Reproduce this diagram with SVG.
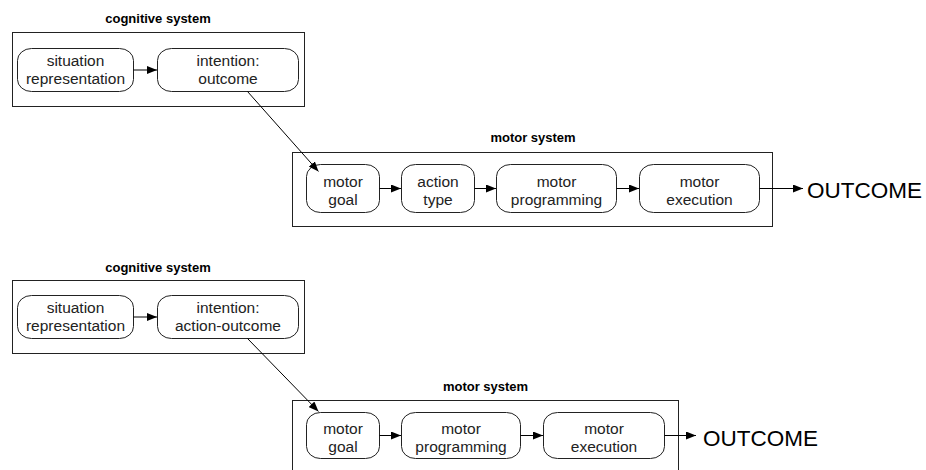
<svg xmlns="http://www.w3.org/2000/svg" width="926" height="470" viewBox="0 0 926 470">
  <defs>
    <marker id="arrow" viewBox="0 0 10 8" refX="10" refY="4" markerWidth="10" markerHeight="8" markerUnits="userSpaceOnUse" orient="auto">
      <path d="M0,0 L10,4 L0,8 Z" fill="#000"/>
    </marker>
    <style>
      .frame { fill: none; stroke: #222; stroke-width: 1; }
      .node { fill: #fff; stroke: #222; stroke-width: 1; }
      .title { font-family: "Liberation Sans", Arial, sans-serif; font-size: 13px; font-weight: bold; text-anchor: middle; fill: #000; }
      .label { font-family: "Liberation Sans", Arial, sans-serif; font-size: 15.5px; text-anchor: middle; fill: #222; }
      .big { font-family: "Liberation Sans", Arial, sans-serif; font-size: 22.5px; fill: #000; }
      .edge { fill: none; stroke: #000; stroke-width: 1; marker-end: url(#arrow); }
    </style>
  </defs>
  <rect width="926" height="470" fill="#fff"/>

  <!-- upper variant: intention as outcome -->
  <g id="cognitive-system-1">
    <text class="title" x="158" y="23">cognitive system</text>
    <rect class="frame" x="12.5" y="32.5" width="292" height="74"/>
  </g>
  <g id="situation-representation-1">
    <rect class="node" x="17.5" y="48.5" width="116" height="43" rx="14" ry="12"/>
    <text class="label" x="75.5" y="65.5">situation</text>
    <text class="label" x="75.5" y="83.5">representation</text>
  </g>
  <g id="intention-outcome">
    <rect class="node" x="157.5" y="48.5" width="141" height="43" rx="14" ry="12"/>
    <text class="label" x="228" y="65.5">intention:</text>
    <text class="label" x="228" y="83.5">outcome</text>
  </g>

  <g id="motor-system-1">
    <text class="title" x="533" y="142">motor system</text>
    <rect class="frame" x="292.5" y="152.5" width="480" height="74"/>
  </g>
  <g id="motor-goal-1">
    <rect class="node" x="306.5" y="164.5" width="73" height="48" rx="14" ry="12"/>
    <text class="label" x="343" y="187">motor</text>
    <text class="label" x="343" y="205">goal</text>
  </g>
  <g id="action-type">
    <rect class="node" x="401.5" y="164.5" width="73" height="48" rx="14" ry="12"/>
    <text class="label" x="438" y="187">action</text>
    <text class="label" x="438" y="205">type</text>
  </g>
  <g id="motor-programming-1">
    <rect class="node" x="496.5" y="164.5" width="120" height="48" rx="14" ry="12"/>
    <text class="label" x="556.5" y="187">motor</text>
    <text class="label" x="556.5" y="205">programming</text>
  </g>
  <g id="motor-execution-1">
    <rect class="node" x="639.5" y="164.5" width="120" height="48" rx="14" ry="12"/>
    <text class="label" x="699.5" y="187">motor</text>
    <text class="label" x="699.5" y="205">execution</text>
  </g>
  <g id="outcome-1">
    <text class="big" x="807" y="197.5">OUTCOME</text>
  </g>

  <!-- lower variant: intention as action-outcome -->
  <g id="cognitive-system-2">
    <text class="title" x="158" y="272">cognitive system</text>
    <rect class="frame" x="12.5" y="280.5" width="292" height="73"/>
  </g>
  <g id="situation-representation-2">
    <rect class="node" x="17.5" y="295.5" width="116" height="43" rx="14" ry="12"/>
    <text class="label" x="75.5" y="313">situation</text>
    <text class="label" x="75.5" y="331">representation</text>
  </g>
  <g id="intention-action-outcome">
    <rect class="node" x="157.5" y="295.5" width="141" height="43" rx="14" ry="12"/>
    <text class="label" x="228" y="313">intention:</text>
    <text class="label" x="228" y="331">action-outcome</text>
  </g>

  <g id="motor-system-2">
    <text class="title" x="485.5" y="391">motor system</text>
    <rect class="frame" x="292.5" y="400.5" width="386" height="72"/>
  </g>
  <g id="motor-goal-2">
    <rect class="node" x="306.5" y="412.5" width="73" height="46" rx="14" ry="12"/>
    <text class="label" x="343" y="433.5">motor</text>
    <text class="label" x="343" y="451.5">goal</text>
  </g>
  <g id="motor-programming-2">
    <rect class="node" x="401.5" y="412.5" width="119" height="46" rx="14" ry="12"/>
    <text class="label" x="461" y="433.5">motor</text>
    <text class="label" x="461" y="451.5">programming</text>
  </g>
  <g id="motor-execution-2">
    <rect class="node" x="543.5" y="412.5" width="121" height="46" rx="14" ry="12"/>
    <text class="label" x="604" y="433.5">motor</text>
    <text class="label" x="604" y="451.5">execution</text>
  </g>
  <g id="outcome-2">
    <text class="big" x="703" y="446">OUTCOME</text>
  </g>

  <g id="connectors">
    <line class="edge" x1="133.5" y1="70" x2="157" y2="70"/>
    <line class="edge" x1="247.5" y1="91.5" x2="318.5" y2="171.5"/>
    <line class="edge" x1="379.5" y1="188.5" x2="401" y2="188.5"/>
    <line class="edge" x1="474.5" y1="188.5" x2="496" y2="188.5"/>
    <line class="edge" x1="616.5" y1="188.5" x2="639" y2="188.5"/>
    <line class="edge" x1="759.5" y1="188.5" x2="803" y2="188.5"/>

    <line class="edge" x1="133.5" y1="317" x2="157" y2="317"/>
    <line class="edge" x1="247.5" y1="338.5" x2="318.5" y2="411.5"/>
    <line class="edge" x1="379.5" y1="435.5" x2="401" y2="435.5"/>
    <line class="edge" x1="520.5" y1="435.5" x2="543" y2="435.5"/>
    <line class="edge" x1="664.5" y1="435.5" x2="696" y2="435.5"/>
  </g>
</svg>
